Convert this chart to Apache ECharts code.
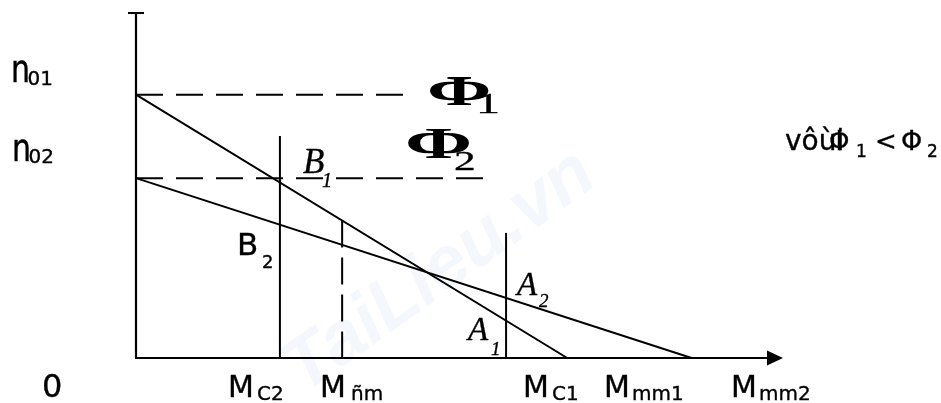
<!DOCTYPE html>
<html>
<head>
<meta charset="utf-8">
<script src="https://cdn.jsdelivr.net/npm/echarts@6/dist/echarts.min.js"></script>
<style>
  html, body { margin: 0; padding: 0; background: #fff; }
  #chart { width: 941px; height: 403px; }
</style>
</head>
<body>
<div id="chart"></div>
<script>
// Mechanical characteristics n(M) of a DC motor at two field fluxes Φ1 and Φ2.
// Speed levels (y) and torque values (x) in relative units.
const noLoadSpeeds = [100, 68.3];                  // n01, n02
const stallTorques = [77.6, 100];                  // Mmm1, Mmm2
const loadTorques = [25.9, 37.1, 66.6];            // MC2, Mđm, MC1

// Characteristic lines and guide lines as [torque, speed] pairs
const charPhi1 = [[0, 100], [77.6, 0]];
const charPhi2 = [[0, 68.3], [100, 0]];
const levelPhi1 = [[0, 100], [49.8, 100]];
const levelPhi2 = [[0, 68.3], [64.6, 68.3]];
const loadLineC2 = [[25.9, 84.3], [25.9, 0]];
const loadLineDm = [[37.1, 52.2], [37.1, 0]];
const loadLineC1 = [[66.6, 47.5], [66.6, 0]];

// Axis labels: [main text, subscript]
const xTickLabels = [['0', ''], ['M', 'C2'], ['M', 'ñm'], ['M', 'C1'], ['M', 'mm1'], ['M', 'mm2']];
const yTickLabels = [['n', '01'], ['n', '02']];
const pointLabels = [['B', '1'], ['B', '2'], ['A', '2'], ['A', '1']];
const fluxLabels = [['Φ', '1'], ['Φ', '2']];
const noteText = ['vôùi', 'Φ', '1', '<', 'Φ', '2'];

// Label placement (left x, baseline y) in pixels
const xLabelPos = [[42, 397, 0, 0], [228, 397, 257, 400], [320, 397, 351, 400],
                   [523, 397, 552, 400], [604, 397, 632, 400], [731, 397, 759, 400]];
const yLabelPos = [[11, 82, 27.5, 85], [12, 161, 28.5, 163]];

const SANS = "'DejaVu Sans'";
const SERIF = "'Liberation Serif'";

function txt(s, x, base, family, size, o) {
  o = o || {};
  return {
    type: 'text', x: x, y: base, scaleX: o.sx || 1, scaleY: o.sy || 1,
    silent: true, z: 100,
    style: {
      text: s, x: 0, y: -0.255 * size,
      fontFamily: family, fontSize: size,
      fontStyle: o.italic ? 'italic' : 'normal',
      fontWeight: o.bold ? 'bold' : 'normal',
      fill: o.color || '#000',
      stroke: o.bold ? null : '#000', lineWidth: o.bold ? 0 : 0.35,
      textAlign: 'left', textVerticalAlign: 'middle',
      align: 'left', verticalAlign: 'middle'
    }
  };
}

const graphics = [];

// faint watermark
graphics.push({
  type: 'text', x: 440, y: 272, rotation: 0.62, silent: true, z: 0,
  style: {
    text: 'TaiLieu.vn', x: 0, y: 0, fontFamily: "'Liberation Sans'", fontSize: 74,
    fontStyle: 'italic', fontWeight: 'bold', fill: 'rgba(196,214,238,0.18)',
    textAlign: 'center', textVerticalAlign: 'middle', align: 'center', verticalAlign: 'middle'
  }
});

// y axis labels n01, n02
yTickLabels.forEach(function (l, i) {
  const p = yLabelPos[i];
  graphics.push(txt(l[0], p[0], p[1], SANS, 30, { sy: 1.25 }));
  graphics.push(txt(l[1], p[2], p[3], SANS, 20));
});

// x axis labels
xTickLabels.forEach(function (l, i) {
  const p = xLabelPos[i];
  graphics.push(txt(l[0], p[0], p[1], SANS, i === 0 ? 32 : 30));
  if (l[1]) graphics.push(txt(l[1], p[2], p[3], SANS, 20));
});

// flux labels
graphics.push(txt(fluxLabels[0][0], 427, 105, SERIF, 42, { bold: true, sx: 1.85 }));
graphics.push(txt(fluxLabels[0][1], 476, 113, SERIF, 30, { sx: 1.6 }));
graphics.push(txt(fluxLabels[1][0], 405, 158, SERIF, 45, { bold: true, sx: 1.8 }));
graphics.push(txt(fluxLabels[1][1], 454, 170, SERIF, 27, { sx: 1.6 }));

// operating points
graphics.push(txt(pointLabels[0][0], 303, 173, SERIF, 35, { italic: true }));
graphics.push(txt(pointLabels[0][1], 322, 187, SERIF, 20, { italic: true }));
graphics.push(txt(pointLabels[1][0], 237, 255, SANS, 31));
graphics.push(txt(pointLabels[1][1], 262, 268, SANS, 18));
graphics.push(txt(pointLabels[2][0], 517, 295, SERIF, 33, { italic: true }));
graphics.push(txt(pointLabels[2][1], 539, 307, SERIF, 19, { italic: true }));
graphics.push(txt(pointLabels[3][0], 468, 340, SERIF, 33, { italic: true }));
graphics.push(txt(pointLabels[3][1], 491, 355, SERIF, 19, { italic: true }));

// note "with Φ1 < Φ2"
graphics.push(txt(noteText[0], 785, 150, SANS, 28));
graphics.push(txt(noteText[1], 829, 150, SANS, 26));
graphics.push(txt(noteText[2], 856, 157, SANS, 17));
graphics.push(txt(noteText[3], 875, 150, SANS, 26));
graphics.push(txt(noteText[4], 901, 150, SANS, 27));
graphics.push(txt(noteText[5], 927, 157, SANS, 17));

function seg(data, dash) {
  return {
    type: 'line', data: data, symbol: 'none', silent: true, z: 5,
    lineStyle: { color: '#000', width: 2, type: dash || 'solid' }
  };
}

const chart = echarts.init(document.getElementById('chart'), null, { renderer: 'canvas' });
chart.setOption({
  animation: false,
  backgroundColor: '#fff',
  grid: { left: 136, right: 166, top: 13, bottom: 45 },
  xAxis: {
    type: 'value', min: 0, max: 115,
    axisLine: { show: true, symbol: ['none', 'triangle'], symbolSize: [15, 16],
      lineStyle: { color: '#000', width: 2.2 } },
    axisTick: { show: false }, axisLabel: { show: false }, splitLine: { show: false }
  },
  yAxis: {
    type: 'value', min: 0, max: 131,
    axisLine: { show: true, symbol: ['none', 'rect'], symbolSize: [16, 2],
      lineStyle: { color: '#000', width: 2.2 } },
    axisTick: { show: false }, axisLabel: { show: false }, splitLine: { show: false }
  },
  series: [
    seg(charPhi1), seg(charPhi2),
    seg(levelPhi1, [27, 13]), seg(levelPhi2, [27, 13]),
    seg(loadLineC2), seg(loadLineDm, [27, 10]), seg(loadLineC1)
  ],
  graphic: graphics
});
</script>
</body>
</html>
